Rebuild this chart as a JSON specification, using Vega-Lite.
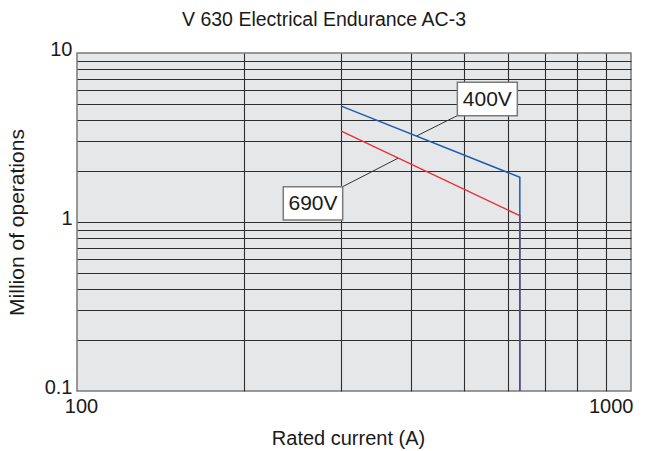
{
  "$schema": "https://vega.github.io/schema/vega-lite/v6.json",
  "width": 554,
  "height": 338,
  "autosize": {"type": "none"},
  "padding": {"left": 77, "top": 53, "right": 17, "bottom": 60},
  "background": "white",
  "title": {
    "text": "V 630 Electrical Endurance AC-3",
    "font": "Liberation Sans",
    "fontSize": 19.5,
    "fontWeight": "normal",
    "color": "#1a1a1a",
    "anchor": "middle",
    "frame": "group",
    "dx": -30,
    "offset": 9
  },
  "config": {
    "view": {"fill": "#e6e7e9", "stroke": "#7a7a7a", "strokeWidth": 1.5},
    "axis": {
      "labelFont": "Liberation Sans",
      "titleFont": "Liberation Sans",
      "labelFontSize": 20,
      "titleFontSize": 20,
      "titleFontWeight": "normal",
      "labelColor": "#1a1a1a",
      "titleColor": "#1a1a1a",
      "ticks": false,
      "tickSize": 0,
      "domain": false,
      "grid": true,
      "gridColor": "#2e2e2e",
      "gridWidth": 1.1,
      "labelOverlap": false,
      "labelFlush": false,
      "labelBound": false
    }
  },
  "datasets": {
    "curves": [
      {"series": "400V", "current": 300, "ops": 4.85, "step": 1},
      {"series": "400V", "current": 630, "ops": 1.84, "step": 2},
      {"series": "400V", "current": 630, "ops": 0.1, "step": 3},
      {"series": "690V", "current": 300, "ops": 3.45, "step": 1},
      {"series": "690V", "current": 630, "ops": 1.09, "step": 2},
      {"series": "690V", "current": 630, "ops": 0.1, "step": 3}
    ],
    "labels": [
      {"label": "400V", "lx": 410.4, "ly": 3.23, "cx": 485.9, "cy": 4.26, "bx1": 485.9, "bx2": 623.5, "by1": 6.71, "by2": 4.26, "tx": 550.4, "ty": 5.35},
      {"label": "690V", "lx": 379.7, "ly": 2.385, "cx": 301.7, "cy": 1.618, "bx1": 235.7, "bx2": 301.7, "by1": 1.618, "by2": 1.028, "tx": 266.7, "ty": 1.29}
    ]
  },
  "layer": [
    {
      "data": {"name": "curves"},
      "transform": [{"filter": "datum.series == '690V'"}],
      "mark": {"type": "line", "color": "#e8303e", "strokeWidth": 1.5},
      "encoding": {
        "x": {
          "field": "current", "type": "quantitative",
          "scale": {"type": "log", "domain": [100, 1000], "nice": false},
          "axis": {
            "values": [100, 200, 300, 400, 500, 600, 700, 800, 900, 1000],
            "labelExpr": "datum.value == 100 ? '100' : datum.value == 1000 ? '1000' : ''",
            "gridOpacity": {"condition": {"test": "datum.value == 100 || datum.value == 1000", "value": 0}, "value": 1},
            "labelAlign": {"condition": {"test": "datum.value == 1000", "value": "right"}, "value": "center"},
            "labelOffset": {"condition": {"test": "datum.value == 100", "value": 4}, "value": 2},
            "labelPadding": 5,
            "title": "Rated current (A)",
            "titleX": 271,
            "titleY": 47,
            "titleBaseline": "middle"
          }
        },
        "y": {
          "field": "ops", "type": "quantitative",
          "scale": {"type": "log", "domain": [0.1, 10], "nice": false},
          "axis": {
            "values": [0.1, 0.2, 0.3, 0.4, 0.5, 0.6, 0.7, 0.8, 0.9, 1, 2, 3, 4, 5, 6, 7, 8, 9, 10],
            "labelExpr": "datum.value == 0.1 ? '0.1' : datum.value == 1 ? '1' : datum.value == 10 ? '10' : ''",
            "gridOpacity": {"condition": {"test": "datum.value == 0.1 || datum.value == 10", "value": 0}, "value": 1},
            "labelPadding": 5,
            "labelOffset": -4,
            "title": "Million of operations",
            "titleFontSize": 21,
            "titleX": -60,
            "titleY": 169,
            "titleBaseline": "middle"
          }
        },
        "order": {"field": "step"}
      }
    },
    {
      "data": {"name": "curves"},
      "transform": [{"filter": "datum.series == '400V'"}],
      "mark": {"type": "line", "color": "#1d5cb0", "strokeWidth": 1.5},
      "encoding": {
        "x": {"field": "current", "type": "quantitative"},
        "y": {"field": "ops", "type": "quantitative"},
        "order": {"field": "step"}
      }
    },
    {
      "data": {"name": "labels"},
      "mark": {"type": "rule", "color": "#333333", "strokeWidth": 1},
      "encoding": {
        "x": {"field": "lx", "type": "quantitative"},
        "y": {"field": "ly", "type": "quantitative"},
        "x2": {"field": "cx"},
        "y2": {"field": "cy"}
      }
    },
    {
      "data": {"name": "labels"},
      "mark": {"type": "rect", "fill": "white", "stroke": "#7a7a7a", "strokeWidth": 1.5},
      "encoding": {
        "x": {"field": "bx1", "type": "quantitative"},
        "x2": {"field": "bx2"},
        "y": {"field": "by1", "type": "quantitative"},
        "y2": {"field": "by2"}
      }
    },
    {
      "data": {"name": "labels"},
      "mark": {"type": "text", "font": "Liberation Sans", "fontSize": 21, "color": "#1a1a1a", "align": "center", "baseline": "middle", "dy": 1},
      "encoding": {
        "x": {"field": "tx", "type": "quantitative"},
        "y": {"field": "ty", "type": "quantitative"},
        "text": {"field": "label"}
      }
    }
  ]
}
